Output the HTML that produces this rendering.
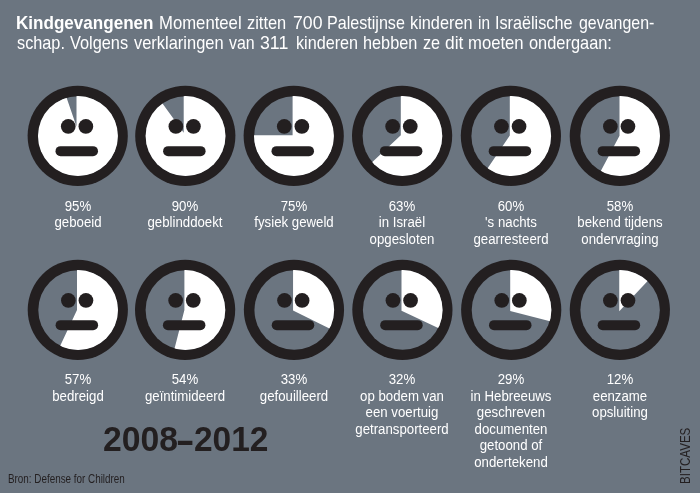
<!DOCTYPE html>
<html><head><meta charset="utf-8"><title>Kindgevangenen</title>
<style>
html,body{margin:0;padding:0;}
body{width:700px;height:493px;background:#6b7580;overflow:hidden;position:relative;font-family:"Liberation Sans",sans-serif;}
svg{position:absolute;left:0;top:0;}
.w{position:absolute;white-space:nowrap;color:#fff;transform-origin:0 0;font-size:18.5px;line-height:24px;height:24px;margin-top:-18.41px;}
.lb{position:absolute;width:200px;text-align:center;white-space:nowrap;color:#fff;font-size:15.3px;line-height:20px;height:20px;margin-top:-15.30px;transform:scaleX(0.865);transform-origin:50% 0;}
#tx{position:absolute;left:0;top:0;width:700px;height:493px;will-change:transform;}
.d{position:absolute;white-space:nowrap;color:#231f20;transform-origin:0 0;}
</style></head><body>
<svg width="700" height="493" viewBox="0 0 700 493">
<clipPath id="c00"><circle cx="77.95" cy="136.05" r="39.95"/></clipPath>
<circle cx="77.70" cy="135.85" r="50.1" fill="#231f20"/>
<circle cx="77.95" cy="136.05" r="39.75" fill="#6b7580"/>
<path d="M76.50,126.50 L76.50,72.75 A53.75,53.75 0 1 1 59.00,75.68 Z" fill="#fff" clip-path="url(#c00)"/>
<circle cx="68.25" cy="126.45" r="7.35" fill="#231f20"/>
<circle cx="85.85" cy="126.45" r="7.35" fill="#231f20"/>
<rect x="55.50" y="146.15" width="42.5" height="10.0" rx="5.0" fill="#231f20"/>
<clipPath id="c01"><circle cx="185.55" cy="136.05" r="39.95"/></clipPath>
<circle cx="185.30" cy="135.85" r="50.1" fill="#231f20"/>
<circle cx="185.55" cy="136.05" r="39.75" fill="#6b7580"/>
<path d="M183.70,132.70 L183.70,78.95 A53.75,53.75 0 1 1 152.11,89.22 Z" fill="#fff" clip-path="url(#c01)"/>
<circle cx="175.85" cy="126.45" r="7.35" fill="#231f20"/>
<circle cx="193.45" cy="126.45" r="7.35" fill="#231f20"/>
<rect x="163.10" y="146.15" width="42.5" height="10.0" rx="5.0" fill="#231f20"/>
<clipPath id="c02"><circle cx="293.95" cy="136.05" r="39.95"/></clipPath>
<circle cx="293.70" cy="135.85" r="50.1" fill="#231f20"/>
<circle cx="293.95" cy="136.05" r="39.75" fill="#6b7580"/>
<path d="M292.60,135.25 L292.60,81.50 A53.75,53.75 0 1 1 238.85,135.25 Z" fill="#fff" clip-path="url(#c02)"/>
<circle cx="284.25" cy="126.45" r="7.35" fill="#231f20"/>
<circle cx="301.85" cy="126.45" r="7.35" fill="#231f20"/>
<rect x="271.50" y="146.15" width="42.5" height="10.0" rx="5.0" fill="#231f20"/>
<clipPath id="c03"><circle cx="402.35" cy="136.05" r="39.95"/></clipPath>
<circle cx="402.10" cy="135.85" r="50.1" fill="#231f20"/>
<circle cx="402.35" cy="136.05" r="39.75" fill="#6b7580"/>
<path d="M400.80,135.25 L400.80,81.50 A53.75,53.75 0 1 1 361.62,172.04 Z" fill="#fff" clip-path="url(#c03)"/>
<circle cx="392.65" cy="126.45" r="7.35" fill="#231f20"/>
<circle cx="410.25" cy="126.45" r="7.35" fill="#231f20"/>
<rect x="379.90" y="146.15" width="42.5" height="10.0" rx="5.0" fill="#231f20"/>
<clipPath id="c04"><circle cx="511.15" cy="136.05" r="39.95"/></clipPath>
<circle cx="510.90" cy="135.85" r="50.1" fill="#231f20"/>
<circle cx="511.15" cy="136.05" r="39.75" fill="#6b7580"/>
<path d="M509.80,135.40 L509.80,81.65 A53.75,53.75 0 1 1 479.74,179.96 Z" fill="#fff" clip-path="url(#c04)"/>
<circle cx="501.45" cy="126.45" r="7.35" fill="#231f20"/>
<circle cx="519.05" cy="126.45" r="7.35" fill="#231f20"/>
<rect x="488.70" y="146.15" width="42.5" height="10.0" rx="5.0" fill="#231f20"/>
<clipPath id="c05"><circle cx="620.05" cy="136.05" r="39.95"/></clipPath>
<circle cx="619.80" cy="135.85" r="50.1" fill="#231f20"/>
<circle cx="620.05" cy="136.05" r="39.75" fill="#6b7580"/>
<path d="M619.50,135.85 L619.50,82.10 A53.75,53.75 0 1 1 594.27,183.31 Z" fill="#fff" clip-path="url(#c05)"/>
<circle cx="610.35" cy="126.45" r="7.35" fill="#231f20"/>
<circle cx="627.95" cy="126.45" r="7.35" fill="#231f20"/>
<rect x="597.60" y="146.15" width="42.5" height="10.0" rx="5.0" fill="#231f20"/>
<clipPath id="c10"><circle cx="78.05" cy="310.05" r="39.95"/></clipPath>
<circle cx="77.80" cy="309.85" r="50.1" fill="#231f20"/>
<circle cx="78.05" cy="310.05" r="39.75" fill="#6b7580"/>
<path d="M77.00,310.10 L77.00,256.35 A53.75,53.75 0 1 1 54.11,358.73 Z" fill="#fff" clip-path="url(#c10)"/>
<circle cx="68.35" cy="300.45" r="7.35" fill="#231f20"/>
<circle cx="85.95" cy="300.45" r="7.35" fill="#231f20"/>
<rect x="55.60" y="320.15" width="42.5" height="10.0" rx="5.0" fill="#231f20"/>
<clipPath id="c11"><circle cx="185.35" cy="310.05" r="39.95"/></clipPath>
<circle cx="185.10" cy="309.85" r="50.1" fill="#231f20"/>
<circle cx="185.35" cy="310.05" r="39.75" fill="#6b7580"/>
<path d="M184.40,310.10 L184.40,256.35 A53.75,53.75 0 1 1 171.03,362.16 Z" fill="#fff" clip-path="url(#c11)"/>
<circle cx="175.65" cy="300.45" r="7.35" fill="#231f20"/>
<circle cx="193.25" cy="300.45" r="7.35" fill="#231f20"/>
<rect x="162.90" y="320.15" width="42.5" height="10.0" rx="5.0" fill="#231f20"/>
<clipPath id="c12"><circle cx="294.20" cy="310.05" r="39.95"/></clipPath>
<circle cx="293.95" cy="309.85" r="50.1" fill="#231f20"/>
<circle cx="294.20" cy="310.05" r="39.75" fill="#6b7580"/>
<path d="M293.05,310.60 L293.05,256.85 A53.75,53.75 0 0 1 341.24,334.42 Z" fill="#fff" clip-path="url(#c12)"/>
<circle cx="284.50" cy="300.45" r="7.35" fill="#231f20"/>
<circle cx="302.10" cy="300.45" r="7.35" fill="#231f20"/>
<rect x="271.75" y="320.15" width="42.5" height="10.0" rx="5.0" fill="#231f20"/>
<clipPath id="c13"><circle cx="402.65" cy="310.05" r="39.95"/></clipPath>
<circle cx="402.40" cy="309.85" r="50.1" fill="#231f20"/>
<circle cx="402.65" cy="310.05" r="39.75" fill="#6b7580"/>
<path d="M401.50,310.80 L401.50,257.05 A53.75,53.75 0 0 1 450.13,333.69 Z" fill="#fff" clip-path="url(#c13)"/>
<circle cx="392.95" cy="300.45" r="7.35" fill="#231f20"/>
<circle cx="410.55" cy="300.45" r="7.35" fill="#231f20"/>
<rect x="380.20" y="320.15" width="42.5" height="10.0" rx="5.0" fill="#231f20"/>
<clipPath id="c14"><circle cx="511.45" cy="310.05" r="39.95"/></clipPath>
<circle cx="511.20" cy="309.85" r="50.1" fill="#231f20"/>
<circle cx="511.45" cy="310.05" r="39.75" fill="#6b7580"/>
<path d="M510.20,310.90 L510.20,257.15 A53.75,53.75 0 0 1 562.26,324.27 Z" fill="#fff" clip-path="url(#c14)"/>
<circle cx="501.75" cy="300.45" r="7.35" fill="#231f20"/>
<circle cx="519.35" cy="300.45" r="7.35" fill="#231f20"/>
<rect x="489.00" y="320.15" width="42.5" height="10.0" rx="5.0" fill="#231f20"/>
<clipPath id="c15"><circle cx="620.10" cy="310.05" r="39.95"/></clipPath>
<circle cx="619.85" cy="309.85" r="50.1" fill="#231f20"/>
<circle cx="620.10" cy="310.05" r="39.75" fill="#6b7580"/>
<path d="M619.25,311.30 L619.25,257.55 A53.75,53.75 0 0 1 656.04,272.12 Z" fill="#fff" clip-path="url(#c15)"/>
<circle cx="610.40" cy="300.45" r="7.35" fill="#231f20"/>
<circle cx="628.00" cy="300.45" r="7.35" fill="#231f20"/>
<rect x="597.65" y="320.15" width="42.5" height="10.0" rx="5.0" fill="#231f20"/>
</svg>
<div id="tx">
<b class="w" style="left:16.38px;top:29.20px;transform:scaleX(0.9225)">Kindgevangenen</b>
<span class="w" style="left:158.70px;top:29.20px;transform:scaleX(0.9026)">Momenteel</span>
<span class="w" style="left:246.60px;top:29.20px;transform:scaleX(0.8878)">zitten</span>
<span class="w" style="left:292.60px;top:29.20px;transform:scaleX(0.9549)">700</span>
<span class="w" style="left:326.53px;top:29.20px;transform:scaleX(0.8699)">Palestijnse</span>
<span class="w" style="left:410.12px;top:29.20px;transform:scaleX(0.8812)">kinderen</span>
<span class="w" style="left:477.87px;top:29.20px;transform:scaleX(0.8314)">in</span>
<span class="w" style="left:495.02px;top:29.20px;transform:scaleX(0.8756)">Israëlische</span>
<span class="w" style="left:578.90px;top:29.20px;transform:scaleX(0.8617)">gevangen-</span>
<span class="w" style="left:16.90px;top:49.45px;transform:scaleX(0.8788)">schap.</span>
<span class="w" style="left:70.30px;top:49.45px;transform:scaleX(0.8828)">Volgens</span>
<span class="w" style="left:133.80px;top:49.45px;transform:scaleX(0.8887)">verklaringen</span>
<span class="w" style="left:228.50px;top:49.45px;transform:scaleX(0.8599)">van</span>
<span class="w" style="left:260.40px;top:49.45px;transform:scaleX(0.9588)">311</span>
<span class="w" style="left:295.63px;top:49.45px;transform:scaleX(0.8740)">kinderen</span>
<span class="w" style="left:363.02px;top:49.45px;transform:scaleX(0.8802)">hebben</span>
<span class="w" style="left:423.00px;top:49.45px;transform:scaleX(0.8779)">ze</span>
<span class="w" style="left:445.00px;top:49.45px;transform:scaleX(0.9382)">dit</span>
<span class="w" style="left:468.00px;top:49.45px;transform:scaleX(0.9004)">moeten</span>
<span class="w" style="left:529.40px;top:49.45px;transform:scaleX(0.8857)">ondergaan:</span>
<div class="lb" style="left:-22.30px;top:211.30px">95%</div>
<div class="lb" style="left:-22.30px;top:227.75px">geboeid</div>
<div class="lb" style="left:85.30px;top:211.30px">90%</div>
<div class="lb" style="left:85.30px;top:227.75px">geblinddoekt</div>
<div class="lb" style="left:193.70px;top:211.30px">75%</div>
<div class="lb" style="left:193.70px;top:227.75px">fysiek geweld</div>
<div class="lb" style="left:302.10px;top:211.30px">63%</div>
<div class="lb" style="left:302.10px;top:227.75px">in Israël</div>
<div class="lb" style="left:302.10px;top:244.20px">opgesloten</div>
<div class="lb" style="left:410.90px;top:211.30px">60%</div>
<div class="lb" style="left:410.90px;top:227.75px">'s nachts</div>
<div class="lb" style="left:410.90px;top:244.20px">gearresteerd</div>
<div class="lb" style="left:519.80px;top:211.30px">58%</div>
<div class="lb" style="left:519.80px;top:227.75px">bekend tijdens</div>
<div class="lb" style="left:519.80px;top:244.20px">ondervraging</div>
<div class="lb" style="left:-22.20px;top:384.70px">57%</div>
<div class="lb" style="left:-22.20px;top:401.15px">bedreigd</div>
<div class="lb" style="left:85.10px;top:384.70px">54%</div>
<div class="lb" style="left:85.10px;top:401.15px">geïntimideerd</div>
<div class="lb" style="left:193.95px;top:384.70px">33%</div>
<div class="lb" style="left:193.95px;top:401.15px">gefouilleerd</div>
<div class="lb" style="left:302.40px;top:384.70px">32%</div>
<div class="lb" style="left:302.40px;top:401.15px">op bodem van</div>
<div class="lb" style="left:302.40px;top:417.60px">een voertuig</div>
<div class="lb" style="left:302.40px;top:434.05px">getransporteerd</div>
<div class="lb" style="left:411.20px;top:384.70px">29%</div>
<div class="lb" style="left:411.20px;top:401.15px">in Hebreeuws</div>
<div class="lb" style="left:411.20px;top:417.60px">geschreven</div>
<div class="lb" style="left:411.20px;top:434.05px">documenten</div>
<div class="lb" style="left:411.20px;top:450.50px">getoond of</div>
<div class="lb" style="left:411.20px;top:466.95px">ondertekend</div>
<div class="lb" style="left:519.85px;top:384.70px">12%</div>
<div class="lb" style="left:519.85px;top:401.15px">eenzame</div>
<div class="lb" style="left:519.85px;top:417.60px">opsluiting</div>
<div class="d" style="font-weight:bold;font-size:34.2px;line-height:48px;height:48px;left:102.71px;top:415.35px;transform:scaleX(0.9859)">2008</div>
<div class="d" style="font-weight:bold;font-size:43.0px;line-height:60px;height:60px;left:176.72px;top:409.45px;transform:scaleX(0.6818)">–</div>
<div class="d" style="font-weight:bold;font-size:34.2px;line-height:48px;height:48px;left:193.72px;top:415.35px;transform:scaleX(0.9792)">2012</div>
<div class="d" style="font-size:12.0px;line-height:16px;height:16px;left:7.90px;top:471.14px;transform:scaleX(0.8218)">Bron: Defense for Children</div>
<div class="d" style="font-size:14.0px;line-height:20px;height:20px;left:674.85px;top:483.93px;transform:rotate(-90deg) scaleX(0.8256)">BITCAVES</div>
</div>
</body></html>
